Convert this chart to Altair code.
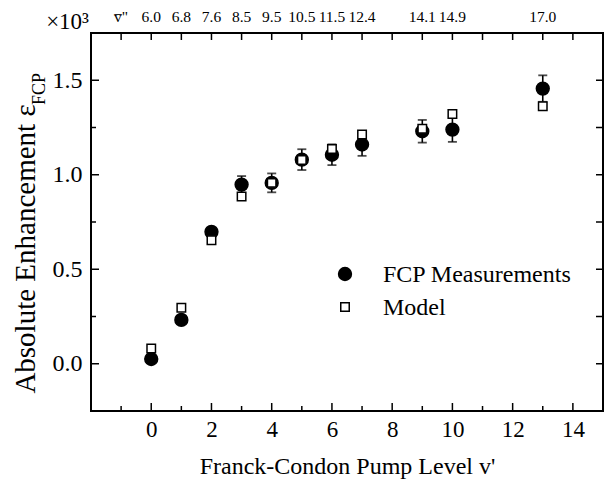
import altair as alt
import pandas as pd

# ---- data ----
levels = [0, 1, 2, 3, 4, 5, 6, 7, 9, 10, 13]
fcp = [0.025, 0.232, 0.698, 0.948, 0.957, 1.080, 1.106, 1.160, 1.230, 1.239, 1.456]
fcp_err = [0.0, 0.0, 0.0, 0.045, 0.05, 0.055, 0.055, 0.06, 0.06, 0.065, 0.07]
model = [0.081, 0.296, 0.654, 0.885, 0.957, 1.078, 1.136, 1.213, 1.243, 1.322, 1.363]
vbar_labels = ["6.0", "6.8", "7.6", "8.5", "9.5", "10.5", "11.5", "12.4", "14.1", "14.9", "17.0"]

x_major = [0, 2, 4, 6, 8, 10, 12, 14]
x_minor = [-1, 1, 3, 5, 7, 9, 11, 13]
x_top = list(range(-1, 15))
y_major = [0.0, 0.5, 1.0, 1.5]
y_minor = [0.25, 0.75, 1.25]
y_right = [0.0, 0.25, 0.5, 0.75, 1.0, 1.25, 1.5]

FONT = "Liberation Serif"
W, H = 512, 378
SERIES = ["FCP Measurements", "Model"]

xs = alt.Scale(domain=[-2, 15], nice=False, zero=False)
ys = alt.Scale(domain=[-0.25, 1.75], nice=False, zero=False)
fill_s = alt.Scale(domain=SERIES, range=["black", "white"])
shape_s = alt.Scale(domain=SERIES, range=["circle", "square"])
size_s = alt.Scale(domain=SERIES, range=[165, 72])

pts = pd.DataFrame({
    "x": levels + levels,
    "y": fcp + model,
    "series": [SERIES[0]] * len(levels) + [SERIES[1]] * len(levels),
})
err = pd.DataFrame({
    "x": levels,
    "lo": [v - e for v, e in zip(fcp, fcp_err)],
    "hi": [v + e for v, e in zip(fcp, fcp_err)],
})
err = err[[e > 0 for e in fcp_err]]

X = alt.X("x:Q", scale=xs, title="Franck-Condon Pump Level v'",
          axis=alt.Axis(values=x_major, ticks=False, tickSize=0, domain=False, grid=False,
                        labelFont=FONT, labelFontSize=23, labelColor="black", labelPadding=7,
                        titleFont=FONT, titleFontSize=24, titleFontWeight="normal",
                        titleColor="black", titlePadding=13))
Y = alt.Y("y:Q", scale=ys, title=None,
          axis=alt.Axis(values=y_major, format=".1f", ticks=False, tickSize=0, domain=False,
                        grid=False, labelFont=FONT, labelFontSize=24, labelColor="black",
                        labelPadding=9))

points = alt.Chart(pts).mark_point(filled=True, stroke="black", strokeWidth=1.5, opacity=1).encode(
    x=X, y=Y,
    fill=alt.Fill("series:N", scale=fill_s, legend=None),
    shape=alt.Shape("series:N", scale=shape_s, legend=None),
    size=alt.Size("series:N", scale=size_s, legend=None),
    order=alt.Order("series:N"),
)

bars = alt.Chart(err).mark_rule(color="black", strokeWidth=1.6).encode(
    x=alt.X("x:Q", scale=xs), y=alt.Y("lo:Q", scale=ys), y2="hi:Q")
cap_lo = alt.Chart(err).mark_tick(orient="horizontal", color="black", size=9, thickness=1.8).encode(
    x=alt.X("x:Q", scale=xs), y=alt.Y("lo:Q", scale=ys))
cap_hi = alt.Chart(err).mark_tick(orient="horizontal", color="black", size=9, thickness=1.8).encode(
    x=alt.X("x:Q", scale=xs), y=alt.Y("hi:Q", scale=ys))

# legend (key symbols use the same scales as the data points)
def key(i, name):
    sym = alt.Chart(pd.DataFrame({"series": [name]})).mark_point(
        filled=True, stroke="black", strokeWidth=1.5, opacity=1).encode(
        x=alt.value(254), y=alt.value(241 + 33 * i),
        fill=alt.Fill("series:N", scale=fill_s, legend=None),
        shape=alt.Shape("series:N", scale=shape_s, legend=None),
        size=alt.Size("series:N", scale=size_s, legend=None))
    lab = alt.Chart(pd.DataFrame({"series": [name]})).mark_text(
        font=FONT, fontSize=24, color="black", align="left", baseline="middle").encode(
        x=alt.value(292), y=alt.value(242 + 33 * i), text="series:N")
    return sym + lab

legend = key(0, SERIES[0]) + key(1, SERIES[1])

# inward tick marks on the frame
bmaj = alt.Chart(pd.DataFrame({"x": x_major})).mark_rule(color="black", strokeWidth=1.5).encode(
    x=alt.X("x:Q", scale=xs), y=alt.value(H), y2=alt.value(H - 8))
bmin = alt.Chart(pd.DataFrame({"x": x_minor})).mark_rule(color="black", strokeWidth=1.5).encode(
    x=alt.X("x:Q", scale=xs), y=alt.value(H), y2=alt.value(H - 5))
ttop = alt.Chart(pd.DataFrame({"x": x_top})).mark_rule(color="black", strokeWidth=1.5).encode(
    x=alt.X("x:Q", scale=xs), y=alt.value(0), y2=alt.value(7))
lmaj = alt.Chart(pd.DataFrame({"y": y_major})).mark_rule(color="black", strokeWidth=1.5).encode(
    y=alt.Y("y:Q", scale=ys), x=alt.value(0), x2=alt.value(8))
lmin = alt.Chart(pd.DataFrame({"y": y_minor})).mark_rule(color="black", strokeWidth=1.5).encode(
    y=alt.Y("y:Q", scale=ys), x=alt.value(0), x2=alt.value(5))
rtk = alt.Chart(pd.DataFrame({"y": y_right})).mark_rule(color="black", strokeWidth=1.5).encode(
    y=alt.Y("y:Q", scale=ys), x=alt.value(W), x2=alt.value(W - 7))

# top axis labels (v'' values)
top_lab = alt.Chart(pd.DataFrame({"x": [-1] + levels, "t": ["v\u0305\""] + vbar_labels})).mark_text(
    font=FONT, fontSize=15.5, color="black", baseline="alphabetic", align="center").encode(
    x=alt.X("x:Q", scale=xs), y=alt.value(-11), text="t:N")

# scale factor and y title
mult = alt.Chart(pd.DataFrame({"t": ["\u00d710\u00b3"]})).mark_text(
    font=FONT, fontSize=23, color="black", align="right", baseline="alphabetic").encode(
    x=alt.value(-2), y=alt.value(-4), text="t:N")
ytitle = alt.Chart(pd.DataFrame({"t": ["Absolute Enhancement  \u03b5"]})).mark_text(
    font=FONT, fontSize=29, color="black", angle=270, align="center", baseline="alphabetic").encode(
    x=alt.value(-56), y=alt.value(216), text="t:N")
ysub = alt.Chart(pd.DataFrame({"t": ["FCP"]})).mark_text(
    font=FONT, fontSize=18, color="black", angle=270, align="center", baseline="alphabetic").encode(
    x=alt.value(-46), y=alt.value(56), text="t:N")

chart = alt.layer(
    bmaj, bmin, ttop, lmaj, lmin, rtk, bars, cap_lo, cap_hi, points, legend,
    top_lab, mult, ytitle, ysub
).properties(
    width=W, height=H,
    autosize=alt.AutoSizeParams(type="none"),
    padding={"left": 91, "top": 33, "right": 3, "bottom": 68},
).configure_axis(
    labelFont=FONT, titleFont=FONT
).configure_view(
    stroke="black", strokeWidth=2
)

chart.save("out.html", embed_options={"renderer": "svg", "actions": False})
